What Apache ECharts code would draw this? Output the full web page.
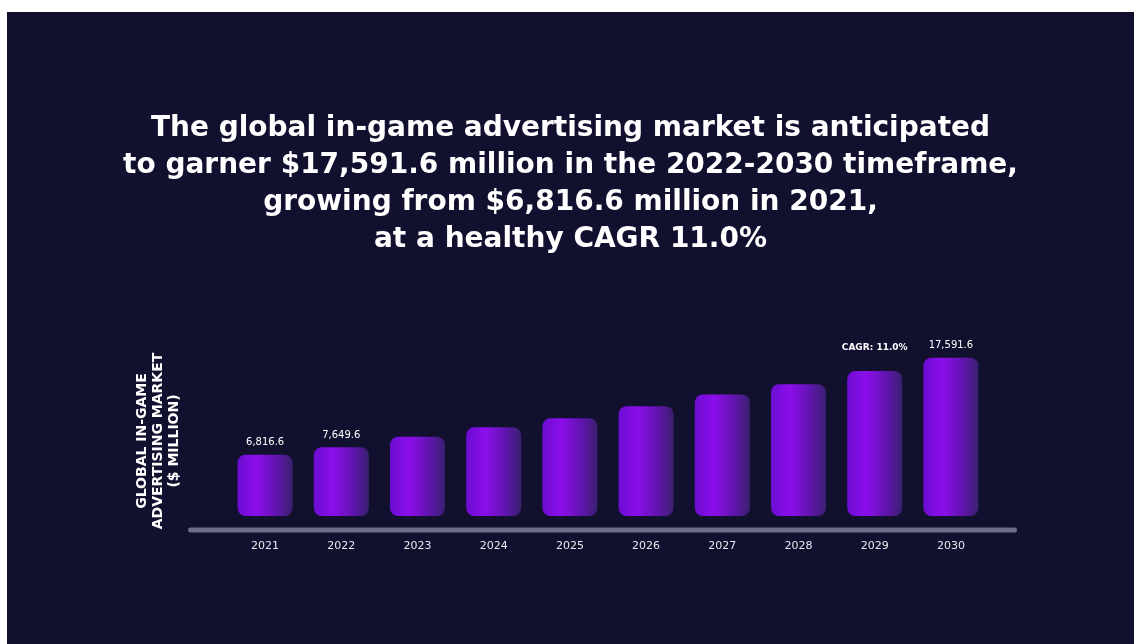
<!DOCTYPE html>
<html>
<head>
<meta charset="utf-8">
<script src="https://cdn.jsdelivr.net/npm/echarts@6/dist/echarts.min.js"></script>
<style>
  html, body { margin: 0; padding: 0; background: #ffffff; }
  #chart { position: absolute; left: 7px; top: 12px; width: 1127px; height: 632px; }
</style>
</head>
<body>
<div id="chart"></div>
<script>
// Global in-game advertising market, $ million
const years = ['2021', '2022', '2023', '2024', '2025', '2026', '2027', '2028', '2029', '2030'];
const marketValues = [6816.6, 7649.6, 8800, 9850, 10850, 12200, 13500, 14650, 16100, 17591.6];
// Text shown above selected bars ('' = no label)
const barLabels = ['6,816.6', '7,649.6', '', '', '', '', '', '', 'CAGR: 11.0%', '17,591.6'];
const titleLines = [
  'The global in-game advertising market is anticipated',
  'to garner $17,591.6 million in the 2022-2030 timeframe,',
  'growing from $6,816.6 million in 2021,',
  'at a healthy CAGR 11.0%'
];
const yAxisTitle = ['GLOBAL IN-GAME', 'ADVERTISING MARKET', '($ MILLION)'];

const FONT = '"DejaVu Sans", "Open Sans", sans-serif';

const barFill = new echarts.graphic.LinearGradient(0, 0, 1, 0, [
  { offset: 0, color: '#6c0dd0' },
  { offset: 0.35, color: '#8c0eec' },
  { offset: 0.7, color: '#6214b0' },
  { offset: 1, color: '#3a2070' }
]);

const seriesData = marketValues.map((v, i) => {
  const item = { value: v };
  if (!barLabels[i]) {
    item.label = { show: false };
  } else if (barLabels[i].startsWith('CAGR')) {
    item.label = { show: true, distance: 19, fontWeight: 'bold', fontSize: 9 };
  }
  return item;
});

const chart = echarts.init(document.getElementById('chart'));
chart.setOption({
  backgroundColor: '#12102f',
  animation: false,
  title: {
    text: titleLines.join('\n'),
    left: 'center',
    top: 93,
    textStyle: {
      color: '#ffffff',
      fontFamily: FONT,
      fontWeight: 600,
      fontSize: 28,
      lineHeight: 37
    }
  },
  grid: { left: 220, right: 145, top: 324, bottom: 128 },
  xAxis: {
    type: 'category',
    data: years,
    axisLine: { show: false },
    axisTick: { show: false },
    axisLabel: {
      color: '#e8e8f0',
      fontFamily: FONT,
      fontSize: 11,
      margin: 25
    }
  },
  yAxis: {
    type: 'value',
    min: 0,
    max: 20000,
    show: false
  },
  graphic: [
    {
      // baseline bar under the columns
      type: 'rect',
      shape: { x: 181, y: 515.5, width: 829, height: 5, r: 2.5 },
      style: { fill: '#6e6c86' },
      silent: true
    },
    {
      type: 'text',
      x: 151,
      y: 429,
      rotation: Math.PI / 2,
      style: {
        text: yAxisTitle.join('\n'),
        fill: '#ffffff',
        font: '600 14px ' + FONT,
        lineHeight: 16,
        align: 'center',
        verticalAlign: 'middle'
      }
    }
  ],
  series: [{
    type: 'bar',
    data: seriesData,
    barWidth: 55,
    itemStyle: { color: barFill, borderRadius: 8 },
    label: {
      show: true,
      position: 'top',
      distance: 7,
      color: '#ffffff',
      fontFamily: FONT,
      fontSize: 10,
      formatter: p => barLabels[p.dataIndex]
    }
  }]
});
</script>
</body>
</html>
